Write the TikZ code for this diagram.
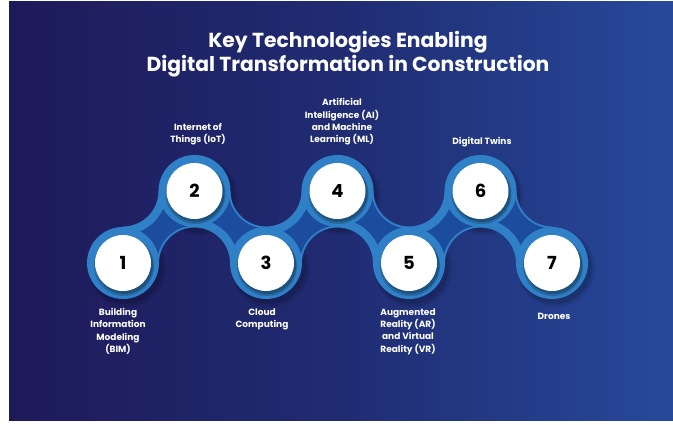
\documentclass[tikz,border=0pt]{standalone}
\usepackage{fontspec}
\setmainfont{Poppins}
\usetikzlibrary{calc}
\definecolor{bgL}{HTML}{1E1A5A}
\definecolor{bgM}{HTML}{202C72}
\definecolor{bgR}{HTML}{27499A}
\definecolor{ringc}{HTML}{2F80C6}
\definecolor{bandc}{HTML}{1C4C9E}
\newcommand\myneckup[3]{%
  \fill[#3] (#1) -- ($(#1)+(71.5-\Pr,0)$) arc[start angle=180,end angle=90,radius=\Pr] -- (#2)
    -- ($(#2)+(\Qr-71.5,0)$) arc[start angle=0,end angle=-90,radius=\Qr] -- cycle;}
\newcommand\myneckdown[3]{%
  \fill[#3] (#1) -- ($(#1)+(71.5-\Pr,0)$) arc[start angle=180,end angle=270,radius=\Pr] -- (#2)
    -- ($(#2)+(\Qr-71.5,0)$) arc[start angle=0,end angle=90,radius=\Qr] -- cycle;}
\begin{document}
\begin{tikzpicture}[x=1pt,y=1pt,
  lbl/.style={text=white,font=\bfseries\fontsize{9}{12.4}\selectfont,align=center,inner sep=0pt},
  ttl/.style={text=white,font=\bfseries\fontsize{20.3}{24}\selectfont,align=center,inner sep=0pt},
  numc/.style={circle,fill=white,minimum size=56pt,inner sep=0pt,text=black,font=\bfseries\fontsize{18}{20}\selectfont}]
\useasboundingbox (0,0) rectangle (673,425);
\shade[left color=bgL,right color=bgR,middle color=bgM] (9,4) rectangle (673,423);
% centres
\coordinate (c1) at (123,162);
\coordinate (c2) at (194.5,234);
\coordinate (c3) at (266,162);
\coordinate (c4) at (337.5,234);
\coordinate (c5) at (409,162);
\coordinate (c6) at (480.5,234);
\coordinate (c7) at (552,162);
% ring shadows
\foreach \c in {c1,c2,c3,c4,c5,c6,c7}{
  \fill[black,opacity=0.10] ($(\c)+(4,-5)$) circle (39);
  \fill[black,opacity=0.12] ($(\c)+(3,-4)$) circle (37);
}
% necks (light)
\def\Pr{35.5}\def\Qr{35.5}
\myneckup{c1}{c2}{ringc}
\myneckdown{c2}{c3}{ringc}
\myneckup{c3}{c4}{ringc}
\myneckdown{c4}{c5}{ringc}
\myneckup{c5}{c6}{ringc}
\myneckdown{c6}{c7}{ringc}
% necks (dark band)
\def\Pr{37.5}\def\Qr{44}
\myneckup{c1}{c2}{bandc}
\myneckdown{c2}{c3}{bandc}
\myneckup{c3}{c4}{bandc}
\myneckdown{c4}{c5}{bandc}
\myneckup{c5}{c6}{bandc}
\myneckdown{c6}{c7}{bandc}
% rings
\foreach \c in {c1,c2,c3,c4,c5,c6,c7}{
  \fill[ringc] (\c) circle (36);
  \fill[black,opacity=0.18] ($(\c)+(1,-3)$) circle (30);
  \fill[black,opacity=0.22] ($(\c)+(1.5,-2.5)$) circle (28.5);
}
% white discs with numbers
\node[numc] (n1) at (c1) {1};
\node[numc] (n2) at (c2) {2};
\node[numc] (n3) at (c3) {3};
\node[numc] (n4) at (c4) {4};
\node[numc] (n5) at (c5) {5};
\node[numc] (n6) at (c6) {6};
\node[numc] (n7) at (c7) {7};
% title
\node[ttl] (title) at (348,371) {Key Technologies Enabling\\Digital Transformation in Construction};
% labels
\node[lbl] (l1) at (118,93.5) {Building\\Information\\Modeling\\(BIM)};
\node[lbl] (l2) at (198,290.5) {Internet of\\Things (IoT)};
\node[lbl] (l3) at (262,105.5) {Cloud\\Computing};
\node[lbl] (l4) at (342,303) {Artificial\\Intelligence (AI)\\and Machine\\Learning (ML)};
\node[lbl] (l5) at (408,93.5) {Augmented\\Reality (AR)\\and Virtual\\Reality (VR)};
\node[lbl] (l6) at (482,283) {Digital Twins};
\node[lbl] (l7) at (554,109) {Drones};
\end{tikzpicture}
\end{document}
